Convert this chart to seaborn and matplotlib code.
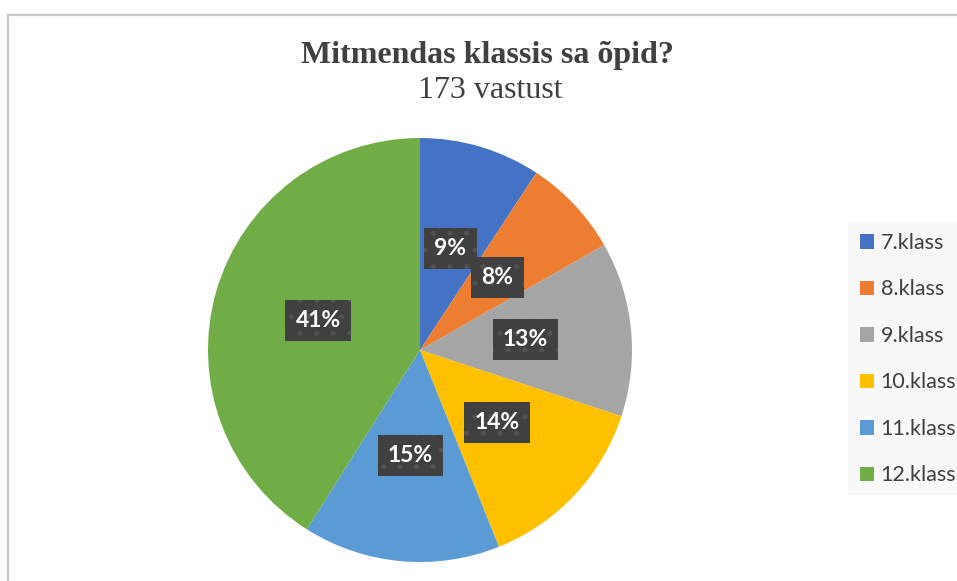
import matplotlib
matplotlib.use("Agg")
import matplotlib.pyplot as plt
import seaborn as sns
from matplotlib.patches import Rectangle

# Andmed
# -----------------------------------------------------------------------
klassid = ["7.klass", "8.klass", "9.klass", "10.klass", "11.klass", "12.klass"]
vastused = [16, 13, 23, 24, 26, 71]
varvid = ["#4472C4", "#ED7D31", "#A5A5A5", "#FFC000", "#5B9BD5", "#70AD47"]
pealkiri = "Mitmendas klassis sa õpid?"
alapealkiri = "173 vastust"

sns.set_style("white")
plt.rcParams["font.family"] = ["Lato", "DejaVu Sans"]
plt.rcParams["hatch.linewidth"] = 1.2

fig = plt.figure(figsize=(9.57, 5.81), dpi=100)
W, H = 957, 581

# raam ümber diagrammi
fig.patches.append(Rectangle((8 / W, -0.1), 1.2, 1 - 14.5 / H + 0.1,
                             transform=fig.transFigure, fill=False,
                             edgecolor="#c8c8c8", linewidth=1.6))

ax = fig.add_axes([208 / W, 19 / H, 424 / W, 424 / H])

palette = sns.color_palette(varvid)
wedges, _, autotexts = ax.pie(
    vastused, colors=palette, startangle=90, counterclock=False,
    autopct=lambda p: f"{p:.0f}%", pctdistance=0.5,
    wedgeprops=dict(linewidth=0), radius=1,
)
ax.set_xlim(-1, 1)
ax.set_ylim(-1, 1)
ax.set_aspect("equal")

for t in autotexts:
    t.set_color("white")
    t.set_fontsize(16.5)
    t.set_fontweight("bold")
    t.set_bbox(dict(boxstyle="square,pad=0.45", facecolor="#404040",
                    edgecolor="#525252", linewidth=0, hatch="."))

# pealkiri
fig.text(487 / W, 1 - 63 / H, pealkiri, ha="center", va="baseline",
         fontsize=23, fontweight="bold", color="#404040",
         family="Liberation Serif")
fig.text(490 / W, 1 - 98 / H, alapealkiri, ha="center", va="baseline",
         fontsize=23, color="#404040", family="Liberation Serif")

# legend
fig.patches.append(Rectangle((848 / W, 1 - 495 / H), 0.2, 272 / H,
                             transform=fig.transFigure, facecolor="#f8f8f8",
                             edgecolor="none", zorder=0))
fig.legend(wedges, klassid, loc="upper left",
           bbox_to_anchor=(860 / W, 1 - 233 / H), frameon=False,
           fontsize=15.5, labelcolor="#404040", handlelength=0.66,
           handleheight=0.66, handletextpad=0.3, labelspacing=1.23,
           borderaxespad=0, borderpad=0)

fig.savefig("out.png", dpi=100)
